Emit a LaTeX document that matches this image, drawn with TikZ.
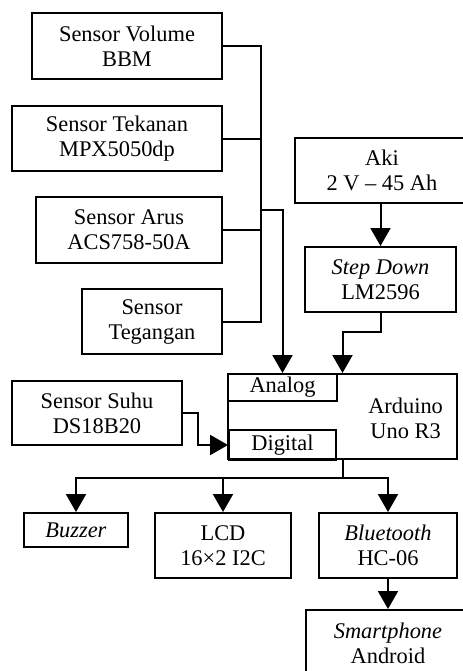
\documentclass[tikz,border=0pt]{standalone}
\usepackage{fontspec}
\setmainfont{Liberation Serif}
\usepackage{tikz}
\usetikzlibrary{arrows.meta,positioning}

\begin{document}
\begin{tikzpicture}[
  x=0.5pt, y=-0.5pt,
  font=\fontsize{11.2}{12.5}\selectfont,
  box/.style={draw, line width=1pt, align=center, inner sep=0pt},
  port/.style={draw, line width=1pt, anchor=north west, inner sep=0pt},
  wire/.style={line width=1pt},
  arr/.style={line width=1pt, -{Triangle[length=9pt, width=10pt]}}
]
\useasboundingbox (0,0) rectangle (462,671);
% sensor analog
\node[box, minimum width=95pt, minimum height=33pt] (vol) at (127,46) {Sensor Volume\\BBM};
\node[box, minimum width=105pt, minimum height=32.5pt] (tek) at (117,138.5) {Sensor Tekanan\\MPX5050dp};
\node[box, minimum width=93pt, minimum height=33pt] (arus) at (129,230) {Sensor Arus\\ACS758-50A};
\node[box, minimum width=70pt, minimum height=32.5pt] (teg) at (152,321.5) {Sensor\\Tegangan};
% catu daya
\node[box, minimum width=87pt, minimum height=32.5pt] (aki) at (382,170.5) {Aki\\2 V -- 45 Ah};
\node[box, minimum width=75.5pt, minimum height=32.5pt] (step) at (380.5,279.5) {\textit{Step Down}\\LM2596};
% mikrokontroler
\node[box, minimum width=114.5pt, minimum height=42.5pt] (ard) at (342.5,416.5) {};
\node[align=center, anchor=east] (ardtxt) at (450,418) {Arduino\\Uno R3};
\node[port, minimum width=54.5pt, minimum height=13.5pt] (analog) at (ard.north west) {Analog};
\node[port, minimum width=53.5pt, minimum height=15pt] (digital) at (228,429) {Digital};
\node[box, minimum width=85pt, minimum height=32pt] (suhu) at (97,413) {Sensor Suhu\\DS18B20};
% output
\node[box, minimum width=52pt, minimum height=17pt] (buzzer) at (76,530) {\textit{Buzzer}};
\node[box, minimum width=68pt, minimum height=32.5pt] (lcd) at (223,545.5) {LCD\\16×2 I2C};
\node[box, minimum width=69pt, minimum height=32.5pt] (bt) at (388,545.5) {\textit{Bluetooth}\\HC-06};
\node[box, minimum width=82pt, minimum height=33pt] (hp) at (388,643) {\textit{Smartphone}\\Android};

\coordinate (bus) at (261,210);
\coordinate (split) at (342.5,478);

\draw[wire] (vol.east) -| (bus) |- (teg.east);
\draw[wire] (tek.east) -- (tek.east -| bus);
\draw[wire] (arus.east) -- (arus.east -| bus);
\draw[arr] (bus) -| (analog.north);
\draw[arr] (aki.south -| step.north) -- (step.north);
\draw[arr] (step.south) -- ++(0,19) -| (ard.north);
\draw[arr] (suhu.east) -- ++(15,0) |- (digital.west);
\draw[wire] (ard.south) -- (split);
\draw[arr] (split) -| (buzzer.north);
\draw[arr] (split) -| (lcd.north);
\draw[arr] (split) -| (bt.north);
\draw[arr] (bt.south) -- (hp.north);
\end{tikzpicture}
\end{document}
